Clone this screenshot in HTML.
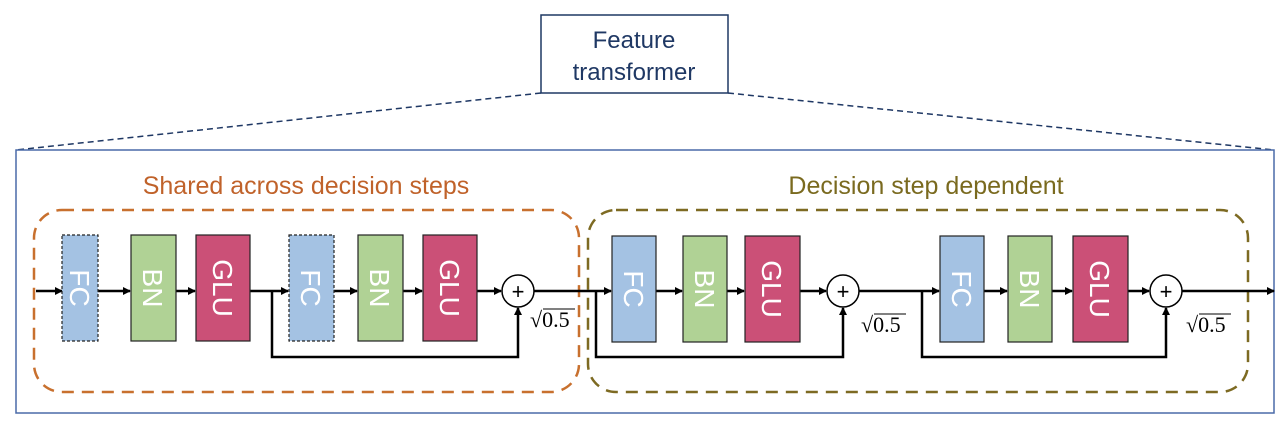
<!DOCTYPE html>
<html><head><meta charset="utf-8"><style>
html,body{margin:0;padding:0;background:#fff;width:1280px;height:427px;overflow:hidden}
text{font-family:"Liberation Sans",sans-serif}
</style></head><body>
<svg width="1280" height="427" viewBox="0 0 1280 427" xmlns="http://www.w3.org/2000/svg">
<defs>
<marker id="a" markerWidth="8" markerHeight="8" refX="7" refY="4" orient="auto" markerUnits="userSpaceOnUse"><path d="M0,0 L8,4 L0,8 z" fill="#000"/></marker>
</defs>
<!-- title -->
<rect x="541" y="15" width="187" height="78" fill="#fff" stroke="#1f3864" stroke-width="1.5"/>
<text x="634" y="48" font-size="24" fill="#1f3864" text-anchor="middle">Feature</text>
<text x="634" y="80" font-size="24" fill="#1f3864" text-anchor="middle">transformer</text>
<line x1="541" y1="93" x2="16" y2="150" stroke="#1f3864" stroke-width="1.5" stroke-dasharray="6,4"/>
<line x1="728" y1="93" x2="1274" y2="150" stroke="#1f3864" stroke-width="1.5" stroke-dasharray="6,4"/>
<rect x="16" y="150" width="1258" height="263" fill="none" stroke="#4a6aa8" stroke-width="1.5"/>
<!-- groups -->
<rect x="34" y="210" width="545" height="182" rx="28" fill="none" stroke="#c8702e" stroke-width="2.5" stroke-dasharray="12,8"/>
<rect x="588" y="210" width="660" height="182" rx="28" fill="none" stroke="#7d6a22" stroke-width="2.5" stroke-dasharray="12,8"/>
<text x="306" y="194" font-size="25" fill="#c0622a" text-anchor="middle">Shared across decision steps</text>
<text x="926" y="194" font-size="25" fill="#7a6a1f" text-anchor="middle">Decision step dependent</text>
<g stroke="#000" stroke-width="2.5" fill="none">
<!-- main line arrows -->
<line x1="36" y1="291" x2="62" y2="291" marker-end="url(#a)"/>
<line x1="98" y1="291" x2="130" y2="291" marker-end="url(#a)"/>
<line x1="176" y1="291" x2="195" y2="291" marker-end="url(#a)"/>
<line x1="250" y1="291" x2="288" y2="291" marker-end="url(#a)"/>
<line x1="334" y1="291" x2="357" y2="291" marker-end="url(#a)"/>
<line x1="403" y1="291" x2="422" y2="291" marker-end="url(#a)"/>
<line x1="477" y1="291" x2="501" y2="291" marker-end="url(#a)"/>
<polyline points="272,291 272,357 518,357 518,308" marker-end="url(#a)"/>
<line x1="534" y1="291" x2="611" y2="291" marker-end="url(#a)"/>
<line x1="656" y1="291" x2="682" y2="291" marker-end="url(#a)"/>
<line x1="727" y1="291" x2="744" y2="291" marker-end="url(#a)"/>
<line x1="800" y1="291" x2="826" y2="291" marker-end="url(#a)"/>
<polyline points="596,291 596,357 843,357 843,308" marker-end="url(#a)"/>
<line x1="859" y1="291" x2="939" y2="291" marker-end="url(#a)"/>
<line x1="984" y1="291" x2="1007" y2="291" marker-end="url(#a)"/>
<line x1="1052" y1="291" x2="1072" y2="291" marker-end="url(#a)"/>
<line x1="1128" y1="291" x2="1149" y2="291" marker-end="url(#a)"/>
<polyline points="922,291 922,357 1166,357 1166,308" marker-end="url(#a)"/>
<line x1="1182" y1="291" x2="1274" y2="291" marker-end="url(#a)"/>
</g>
<!-- blocks -->
<g stroke="#222" stroke-width="1.2">
<rect x="62" y="235" width="36" height="106" fill="#a4c2e3" stroke-dasharray="3,2"/>
<rect x="131" y="235" width="45" height="106" fill="#b0d295"/>
<rect x="196" y="235" width="54" height="106" fill="#cb5077"/>
<rect x="289" y="235" width="45" height="106" fill="#a4c2e3" stroke-dasharray="3,2"/>
<rect x="358" y="235" width="45" height="106" fill="#b0d295"/>
<rect x="423" y="235" width="54" height="106" fill="#cb5077"/>
<rect x="612" y="236" width="44" height="106" fill="#a4c2e3"/>
<rect x="683" y="236" width="44" height="106" fill="#b0d295"/>
<rect x="745" y="236" width="55" height="106" fill="#cb5077"/>
<rect x="940" y="236" width="44" height="106" fill="#a4c2e3"/>
<rect x="1008" y="236" width="44" height="106" fill="#b0d295"/>
<rect x="1073" y="236" width="55" height="106" fill="#cb5077"/>
</g>
<g fill="#fff" font-size="28" text-anchor="middle">
<text transform="translate(80,288) rotate(90)" dy="10">FC</text>
<text transform="translate(153,288) rotate(90)" dy="10">BN</text>
<text transform="translate(223,288) rotate(90)" dy="10">GLU</text>
<text transform="translate(311,288) rotate(90)" dy="10">FC</text>
<text transform="translate(380,288) rotate(90)" dy="10">BN</text>
<text transform="translate(450,288) rotate(90)" dy="10">GLU</text>
<text transform="translate(634,289) rotate(90)" dy="10">FC</text>
<text transform="translate(705,289) rotate(90)" dy="10">BN</text>
<text transform="translate(772,289) rotate(90)" dy="10">GLU</text>
<text transform="translate(962,289) rotate(90)" dy="10">FC</text>
<text transform="translate(1030,289) rotate(90)" dy="10">BN</text>
<text transform="translate(1100,289) rotate(90)" dy="10">GLU</text>
</g>
<!-- plus circles -->
<g fill="#fff" stroke="#000" stroke-width="1.5">
<circle cx="518" cy="291" r="16"/><circle cx="843" cy="291" r="16"/><circle cx="1166" cy="291" r="16"/>
</g>
<g font-size="22" text-anchor="middle" fill="#000">
<text x="518" y="299">+</text><text x="843" y="299">+</text><text x="1166" y="299">+</text>
</g>
<g font-family="Liberation Serif" font-size="22" fill="#000">
<text x="530" y="327" style="font-family:'Liberation Serif',serif">√0.5</text>
<text x="861" y="332" style="font-family:'Liberation Serif',serif">√0.5</text>
<text x="1186" y="332" style="font-family:'Liberation Serif',serif">√0.5</text>
</g>
<g stroke="#000" stroke-width="1">
<line x1="543" y1="309" x2="575" y2="309"/><line x1="874" y1="314" x2="906" y2="314"/><line x1="1199" y1="314" x2="1231" y2="314"/>
</g>
</svg>
</body></html>
